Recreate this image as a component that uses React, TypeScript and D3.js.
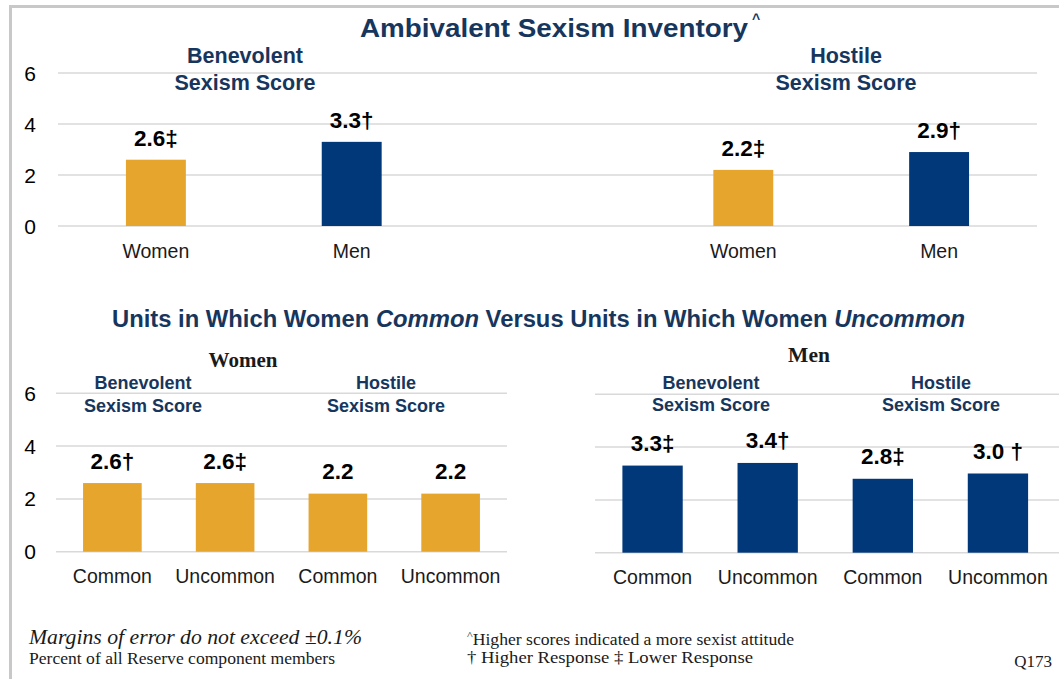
import React from "react";
import * as d3 from "d3";

// ---------- data ----------
const yTicks = [0, 2, 4, 6];
const topCategories = ["Women", "Men"];
const topBenevolent = [2.6, 3.3];
const topBenevolentMarks = ["‡", "†"];
const topHostile = [2.2, 2.9];
const topHostileMarks = ["‡", "†"];
const groupTitles = ["Benevolent", "Hostile"];
const groupSubtitle = "Sexism Score";
const unitCategories = ["Common", "Uncommon"];
const womenBenevolent = [2.6, 2.6];
const womenBenevolentMarks = ["†", "‡"];
const womenHostile = [2.2, 2.2];
const womenHostileMarks = ["", ""];
const menBenevolent = [3.3, 3.4];
const menBenevolentMarks = ["‡", "†"];
const menHostile = [2.8, 3.0];
const menHostileMarks = ["‡", " †"];

// ---------- style ----------
const GOLD = "#E6A52D";
const NAVY = "#003879";
const TITLE = "#17365D";
const GRID = "#D9D9D9";
const SANS = "'Liberation Sans', Arial, sans-serif";
const SERIF = "'Liberation Serif', 'Times New Roman', serif";
const fmt = d3.format(".1f");

type Bar = { slot: number; label: string; value: number; mark: string; color: string };

function Panel(props: {
  bars: Bar[];
  slots: number;
  xRange: [number, number];
  padding: number;
  yRange: [number, number];
  gridX: [number, number];
  showTicks: boolean;
  catFont: number;
  catOffset: number;
  valFont: number;
  valGap: number;
}) {
  const { bars, slots, xRange, padding, yRange, gridX, showTicks, catFont, catOffset, valFont, valGap } = props;
  const x = d3
    .scaleBand<number>()
    .domain(d3.range(slots))
    .range(xRange)
    .paddingInner(padding)
    .paddingOuter(padding / 2);
  const y = d3.scaleLinear().domain([0, 6]).range(yRange);
  return (
    <g>
      {yTicks.map((t) => (
        <g key={t}>
          <line x1={gridX[0]} x2={gridX[1]} y1={y(t)} y2={y(t)} stroke={GRID} strokeWidth={1.5} />
          {showTicks && (
            <text x={30} y={y(t)} dy="0.36em" textAnchor="middle" fontFamily={SANS} fontSize={21} fill="#000">
              {t}
            </text>
          )}
        </g>
      ))}
      {bars.map((b) => {
        const cx = (x(b.slot) as number) + x.bandwidth() / 2;
        return (
          <g key={b.slot}>
            <rect x={x(b.slot)} y={y(b.value)} width={x.bandwidth()} height={y(0) - y(b.value)} fill={b.color} />
            <text
              x={cx}
              y={y(b.value) - valGap}
              textAnchor="middle"
              fontFamily={SANS}
              fontWeight="bold"
              fontSize={valFont}
              fill="#000"
            >
              {fmt(b.value) + b.mark}
            </text>
            <text x={cx} y={y(0) + catOffset} textAnchor="middle" fontFamily={SANS} fontSize={catFont} fill="#1a1a1a">
              {b.label}
            </text>
          </g>
        );
      })}
    </g>
  );
}

function GroupTitle(props: { x: number; y1: number; y2: number; title: string; size: number }) {
  return (
    <g fontFamily={SANS} fontWeight="bold" fontSize={props.size} fill={TITLE} textAnchor="middle">
      <text x={props.x} y={props.y1}>{props.title}</text>
      <text x={props.x} y={props.y2}>{groupSubtitle}</text>
    </g>
  );
}

export default function App() {
  const topBars: Bar[] = [
    ...topCategories.map((c, i) => ({ slot: i, label: c, value: topBenevolent[i], mark: topBenevolentMarks[i], color: i === 0 ? GOLD : NAVY })),
    ...topCategories.map((c, i) => ({ slot: i + 3, label: c, value: topHostile[i], mark: topHostileMarks[i], color: i === 0 ? GOLD : NAVY })),
  ];
  const womenBars: Bar[] = [
    ...unitCategories.map((c, i) => ({ slot: i, label: c, value: womenBenevolent[i], mark: womenBenevolentMarks[i], color: GOLD })),
    ...unitCategories.map((c, i) => ({ slot: i + 2, label: c, value: womenHostile[i], mark: womenHostileMarks[i], color: GOLD })),
  ];
  const menBars: Bar[] = [
    ...unitCategories.map((c, i) => ({ slot: i, label: c, value: menBenevolent[i], mark: menBenevolentMarks[i], color: NAVY })),
    ...unitCategories.map((c, i) => ({ slot: i + 2, label: c, value: menHostile[i], mark: menHostileMarks[i], color: NAVY })),
  ];

  return (
    <svg width={1059} height={679} style={{ position: "absolute", left: 0, top: 0, background: "#fff" }}>
      <rect width={1059} height={679} fill="#fff" />
      {/* frame */}
      <path d="M10.5,679 V6.5 H1059" fill="none" stroke="#C8C8C8" strokeWidth={3} />

      {/* top title */}
      <text x={360} y={37} fontFamily={SANS} fontWeight="bold" fontSize={25} fill={TITLE} textLength={388} lengthAdjust="spacingAndGlyphs">
        Ambivalent Sexism Inventory
      </text>
      <text x={752} y={24} fontFamily={SANS} fontWeight="bold" fontSize={14} fill={TITLE}>^</text>

      <GroupTitle x={245} y1={63} y2={90} title={groupTitles[0]} size={21.5} />
      <GroupTitle x={846} y1={63} y2={90} title={groupTitles[1]} size={21.5} />

      <Panel
        bars={topBars}
        slots={5}
        xRange={[58, 1037]}
        padding={0.694}
        yRange={[226, 73]}
        gridX={[58, 1037]}
        showTicks={true}
        catFont={19.5}
        catOffset={32}
        valFont={22.5}
        valGap={14}
      />

      {/* bottom title */}
      <text x={112} y={327} fontFamily={SANS} fontWeight="bold" fontSize={23} fill={TITLE} textLength={853} lengthAdjust="spacingAndGlyphs">
        <tspan>Units in Which Women </tspan>
        <tspan fontStyle="italic">Common</tspan>
        <tspan> Versus Units in Which Women </tspan>
        <tspan fontStyle="italic">Uncommon</tspan>
      </text>

      <text x={243} y={367} textAnchor="middle" fontFamily={SERIF} fontWeight="bold" fontSize={21} fill="#1a1a1a">Women</text>
      <text x={809} y={362} textAnchor="middle" fontFamily={SERIF} fontWeight="bold" fontSize={21.5} fill="#1a1a1a">Men</text>

      <GroupTitle x={143} y1={389} y2={412} title={groupTitles[0]} size={18} />
      <GroupTitle x={386} y1={389} y2={412} title={groupTitles[1]} size={18} />
      <GroupTitle x={711} y1={389} y2={411} title={groupTitles[0]} size={18} />
      <GroupTitle x={941} y1={389} y2={411} title={groupTitles[1]} size={18} />

      <Panel
        bars={womenBars}
        slots={4}
        xRange={[56, 507]}
        padding={0.48}
        yRange={[551.7, 393.3]}
        gridX={[56, 507]}
        showTicks={true}
        catFont={19.5}
        catOffset={31}
        valFont={22.5}
        valGap={14.5}
      />
      <Panel
        bars={menBars}
        slots={4}
        xRange={[595, 1055.5]}
        padding={0.476}
        yRange={[552.7, 394.3]}
        gridX={[595, 1059]}
        showTicks={false}
        catFont={19.5}
        catOffset={31}
        valFont={22.5}
        valGap={14.5}
      />

      {/* footer */}
      <text x={29} y={644} fontFamily={SERIF} fontStyle="italic" fontSize={21} fill="#1a1a1a" textLength={333} lengthAdjust="spacingAndGlyphs">
        Margins of error do not exceed ±0.1%
      </text>
      <text x={29} y={664} fontFamily={SERIF} fontSize={16.5} fill="#1a1a1a" textLength={306} lengthAdjust="spacingAndGlyphs">
        Percent of all Reserve component members
      </text>
      <text x={467} y={645} fontFamily={SERIF} fontSize={16} fill="#1a1a1a" textLength={327} lengthAdjust="spacingAndGlyphs">
        <tspan fontSize={11} dy={-6}>^</tspan>
        <tspan dy={6}>Higher scores indicated a more sexist attitude</tspan>
      </text>
      <text x={467} y={663} fontFamily={SERIF} fontSize={16} fill="#1a1a1a" textLength={286} lengthAdjust="spacingAndGlyphs">
        † Higher Response  ‡ Lower Response
      </text>
      <text x={1052} y={667} textAnchor="end" fontFamily={SERIF} fontSize={17} fill="#1a1a1a">Q173</text>
    </svg>
  );
}
